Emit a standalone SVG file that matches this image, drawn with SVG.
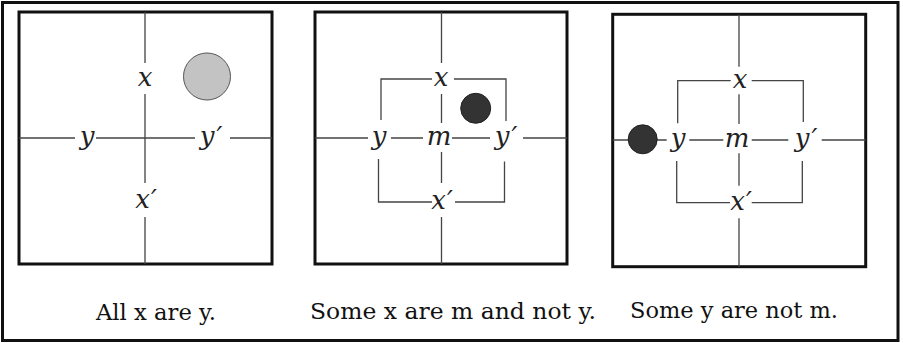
<svg xmlns="http://www.w3.org/2000/svg" width="903" height="343" viewBox="0 0 903 343">
<style>
.frame{fill:none;stroke:#111;stroke-width:3}
.box{fill:none;stroke:#111;stroke-width:3}
.ln{fill:none;stroke:#444;stroke-width:1.3}
.lab{font-family:"DejaVu Serif","Liberation Serif",serif;font-style:italic;font-size:26px;fill:#222;text-anchor:middle}
.cap{font-family:"DejaVu Serif","Liberation Serif",serif;font-size:23px;fill:#111;text-anchor:middle}
.dot{fill:#333;stroke:#222;stroke-width:1}
.gray{fill:#c3c3c3;stroke:#555;stroke-width:1}
</style>
<rect width="903" height="343" fill="#fff"/>
<rect class="frame" x="2.5" y="2.5" width="895.5" height="338"/>
<g id="panel1">
<rect class="box" x="19" y="12" width="253" height="252"/>
<g class="connectors">
<path class="ln" d="M145,12V63M145,94V183M145,217V264M19,138H75M96,138H195M230,138H272"/>
</g>
<circle class="gray" cx="207" cy="76.5" r="23.5"/>
<text class="lab" x="145" y="85.5">x</text>
<text class="lab" x="87" y="144.5">y</text>
<text class="lab" x="211" y="144.5">y<tspan dx="2">′</tspan></text>
<text class="lab" x="146" y="207.5">x<tspan dx="1">′</tspan></text>
<text class="cap" x="156" y="320" textLength="120" lengthAdjust="spacingAndGlyphs">All x are y.</text>
</g>
<g id="panel2">
<rect class="box" x="315" y="12" width="252" height="252"/>
<g class="connectors">
<path class="ln" d="M441.5,12V63M441.5,94V123M441.5,152V183M441.5,217V264M315,138H368M391,138H423M452,138H490M523,138H567"/>
<path class="ln" d="M381,120V79H432M454,79H506V121M378.5,159V202H432M455,202H504.5V161.5"/>
</g>
<circle class="dot" cx="475.7" cy="108.3" r="15"/>
<text class="lab" x="441" y="86">x</text>
<text class="lab" x="379" y="144.5">y</text>
<text class="lab" x="439" y="144.5">m</text>
<text class="lab" x="506" y="144.5">y<tspan dx="2">′</tspan></text>
<text class="lab" x="442" y="208.5">x<tspan dx="1">′</tspan></text>
<text class="cap" x="453" y="319" textLength="286" lengthAdjust="spacingAndGlyphs">Some x are m and not y.</text>
</g>
<g id="panel3">
<rect class="box" x="612.7" y="14.3" width="253" height="252.4"/>
<g class="connectors">
<path class="ln" d="M739,14.3V66.7M739,94.3V124M739,153.3V185.7M739,218.3V266.7M612.7,140H666.7M689.3,140H723.3M751.7,140H788.3M821.7,140H865.7"/>
<path class="ln" d="M677.7,123.3V80.7H730.7M751.7,80.7H803.3V122M676.7,161V202.7H730M751.7,202.7H802.3V161"/>
</g>
<circle class="dot" cx="642.7" cy="139.3" r="14.5"/>
<text class="lab" x="740" y="88">x</text>
<text class="lab" x="678" y="146.5">y</text>
<text class="lab" x="737" y="146.5">m</text>
<text class="lab" x="806" y="146.5">y<tspan dx="2">′</tspan></text>
<text class="lab" x="741" y="210">x<tspan dx="1">′</tspan></text>
<text class="cap" x="734" y="318" textLength="208" lengthAdjust="spacingAndGlyphs">Some y are not m.</text>
</g>
</svg>
